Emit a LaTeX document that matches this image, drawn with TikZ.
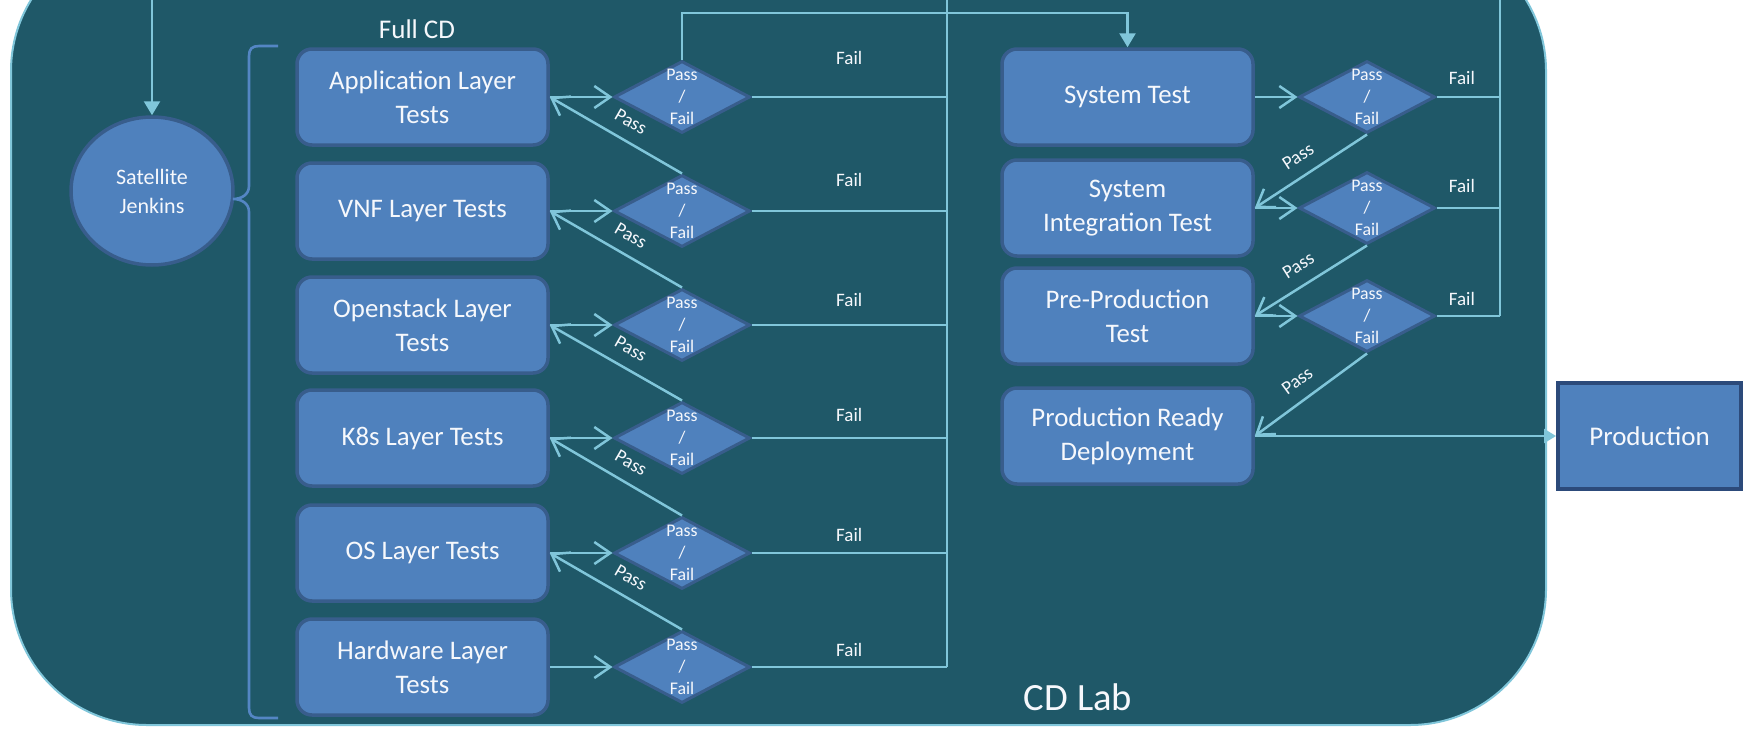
\documentclass[tikz,border=0pt]{standalone}
\usepackage{fontspec}
\setmainfont{Carlito}
\usetikzlibrary{arrows.meta,shapes.geometric,calc}
\definecolor{labbg}{RGB}{31,88,104}
\definecolor{boxfill}{RGB}{79,129,189}
\definecolor{boxedge}{RGB}{56,93,140}
\definecolor{prodedge}{RGB}{44,74,122}
\definecolor{flow}{RGB}{128,198,218}
\definecolor{bracecol}{RGB}{84,134,196}
\definecolor{txt}{RGB}{246,248,252}

\begin{document}
\begin{tikzpicture}[x=0.5pt,y=-0.5pt,
  every node/.style={text=txt},
  stage/.style={draw=boxedge, line width=1.75pt, fill=boxfill, rounded corners=7.5pt,
    minimum width=125.5pt, minimum height=48pt, align=center, inner sep=0pt,
    font=\fontsize{13.4}{17}\selectfont},
  gatetext/.style={align=center, inner sep=0pt, font=\fontsize{8.9}{11}\selectfont},
  gate/.style={diamond, draw=boxedge, line width=1.5pt, fill=boxfill,
    minimum width=68pt, minimum height=36pt, inner sep=0pt,
    label={[gatetext]center:{Pass\\/\\Fail}}},
  jenkins/.style={ellipse, draw=boxedge, line width=1.75pt, fill=boxfill,
    minimum width=81pt, minimum height=74pt, inner sep=0pt, align=center,
    font=\fontsize{11}{14.5}\selectfont},
  prodbox/.style={rectangle, draw=prodedge, line width=2pt, fill=boxfill,
    minimum width=91.5pt, minimum height=53pt, inner sep=0pt,
    font=\fontsize{13.5}{17}\selectfont},
  flowline/.style={draw=flow, line width=1.25pt},
  barb/.style={flowline, -{Straight Barb[length=8pt,width=11pt]}},
  tri/.style={flowline, -{Triangle[length=7pt,width=8pt]}},
  smalltri/.style={flowline, -{Triangle[length=6pt,width=7pt]}},
  faillbl/.style={inner sep=0pt, font=\fontsize{9.5}{11}\selectfont},
  passlbl/.style={sloped, above=5pt, inner sep=1pt, font=\fontsize{9.5}{11}\selectfont},
  bracestyle/.style={draw=bracecol, line width=1.3pt}
]
\useasboundingbox (0,0) rectangle (1744,728);
\fill[white] (0,0) rectangle (1744,728);

% lab area
\filldraw[fill=labbg, draw=flow, line width=1pt, rounded corners=68pt]
  (11,-65) rectangle (1546,725);

% headings
\node[font=\fontsize{13.5}{16}\selectfont] (fullcd) at (417,29) {Full CD};
\node[font=\fontsize{19.3}{23}\selectfont] (cdlab) at (1078,697) {CD Lab};

% trigger node
\node[jenkins] (jenk) at (152,191) {Satellite\\Jenkins};

% bracket grouping the layer tests
\draw[bracestyle] (278,46) -- (259,46) .. controls (252,46) and (249,49) .. (249,56)
  -- (249,186) .. controls (249,195) and (241,199) .. (233,199)
  .. controls (241,199) and (249,203) .. (249,212)
  -- (249,708) .. controls (249,715) and (252,718) .. (259,718) -- (278,718);

% layer test stages
\node[stage] (b1) at (422.5,97)  {Application Layer\\Tests};
\node[stage] (b2) at (422.5,211) {VNF Layer Tests};
\node[stage] (b3) at (422.5,325) {Openstack Layer\\Tests};
\node[stage] (b4) at (422.5,438) {K8s Layer Tests};
\node[stage] (b5) at (422.5,553) {OS Layer Tests};
\node[stage] (b6) at (422.5,667) {Hardware Layer\\Tests};

\foreach \n/\y in {1/97,2/211,3/325,4/438,5/553,6/667}
  \node[gate] (d\n) at (682,\y) {};

% system level stages
\node[stage] (st)  at (1127.5,97)  {System Test};
\node[stage] (sit) at (1127.5,208) {System\\Integration Test};
\node[stage] (ppt) at (1127.5,316) {Pre-Production\\Test};
\node[stage] (prd) at (1127.5,436) {Production Ready\\Deployment};

\node[gate] (r1) at (1367,97)  {};
\node[gate] (r2) at (1367,208) {};
\node[gate] (r3) at (1367,316) {};

\node[prodbox] (prod) at (1649.5,436) {Production};

% feed lines
\coordinate (jtop) at (152,-2);
\coordinate (failL) at (947,-2);
\coordinate (failR) at (1500,-2);
\coordinate (trunk) at (1127.5,13);

\draw[tri] (jtop) -- (jenk.north);

% layer stages into their gates
\foreach \n in {1,...,6}
  \draw[barb] (b\n.east) -- (d\n.west);

% pass: next gate back to the stage above
\foreach \a/\b in {2/1,3/2,4/3,5/4,6/5}
  \draw[barb] (d\a.north) -- node[passlbl, pos=0.46] {Pass} (b\b.east);

% fail returns
\foreach \n/\dy in {1/19.5,2/15.5,3/12.5,4/11.5,5/9,6/8.5}
  \draw[flowline] (d\n.east) -- node[faillbl, pos=0.5, yshift=\dy pt] {Fail} (d\n.east -| failL);
\draw[flowline] (failL) -- (failL |- d6.east);

% top gate passes on to system test
\draw[tri] (d1.north) |- (trunk) -- (st.north);

% system stages into their gates
\draw[barb] (st.east)  -- (r1.west);
\draw[barb] (sit.east) -- (r2.west);
\draw[barb] (ppt.east) -- (r3.west);

\draw[barb] (r1.south) -- node[passlbl, pos=0.52] {Pass} (sit.east);
\draw[barb] (r2.south) -- node[passlbl, pos=0.52] {Pass} (ppt.east);
\draw[barb] (r3.south) -- node[passlbl, pos=0.52] {Pass} (prd.east);

\foreach \n/\dy in {1/9.5,2/11,3/8.5}
  \draw[flowline] (r\n.east) -- node[faillbl, pos=0.4, yshift=\dy pt] {Fail} (r\n.east -| failR);
\draw[flowline] (failR) -- (failR |- r3.east);

% release
\draw[smalltri] (prd.east) -- (prod.west);
\end{tikzpicture}
\end{document}
